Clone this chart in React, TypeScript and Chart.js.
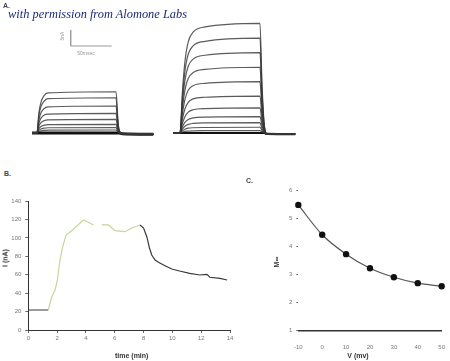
import React, { useEffect, useRef } from "react";
import { Chart, registerables } from "chart.js";

Chart.register(...registerables);

// ---------- Panel A: current traces (time in ms, current in nA) ----------
const A_LEFT_TIME = [39, 45, 47.5, 50, 53.5, 58.5, 141.5, 143.5, 145, 149, 187];
const A_LEFT_TRACES = [
  [0, 0, 8.6, 12.9, 15.5, 16.7, 17.2, 6.9, 1.7, -0.3, -0.5],
  [0, 0, 7.4, 11, 13.2, 14.3, 14.7, 5.9, 1.5, -0.3, -0.5],
  [0, 0, 5.6, 8.4, 10.1, 10.9, 11.25, 4.5, 1.1, -0.3, -0.5],
  [0, 0, 4.1, 6.2, 7.4, 7.9, 8.2, 3.3, 0.8, -0.3, -0.5],
  [0, 0, 2.9, 4.3, 5.1, 5.5, 5.7, 2.3, 0.6, -0.3, -0.5],
  [0, 0, 1.8, 2.7, 3.2, 3.5, 3.6, 1.4, 0.4, -0.3, -0.5],
  [0, 0, 1.1, 1.7, 2, 2.2, 2.25, 0.9, 0.2, -0.3, -0.5],
  [0, 0, 0.6, 0.9, 1.1, 1.2, 1.25, 0.5, 0.1, -0.3, -0.5],
  [0, 0, 0, 0, 0, 0, 0, 0, 0, -0.3, -0.5],
];
const A_RIGHT_TIME = [211, 219.5, 222.5, 225.5, 229.5, 235.5, 250, 317, 319.5, 322, 325.5, 360];
const A_RIGHT_TRACES = [
  [0, 0, 17.4, 29.7, 37.9, 42, 44.2, 45.7, 20.6, 4.6, -0.4, -0.5],
  [0, 0, 15, 25.7, 32.8, 36.3, 38.2, 39.5, 17.8, 4, -0.4, -0.5],
  [0, 0, 12.7, 21.8, 27.8, 30.8, 32.4, 33.5, 15.1, 3.4, -0.4, -0.5],
  [0, 0, 10.4, 17.8, 22.7, 25.2, 26.5, 27.4, 12.3, 2.7, -0.4, -0.5],
  [0, 0, 8.1, 13.9, 17.8, 19.7, 20.7, 21.4, 9.6, 2.1, -0.4, -0.5],
  [0, 0, 5.9, 10, 12.8, 14.2, 14.9, 15.4, 6.9, 1.5, -0.4, -0.5],
  [0, 0, 4, 6.8, 8.7, 9.7, 10.2, 10.5, 4.7, 1.1, -0.4, -0.5],
  [0, 0, 2.6, 4.4, 5.6, 6.3, 6.6, 6.8, 3.1, 0.7, -0.4, -0.5],
  [0, 0, 1.6, 2.8, 3.6, 4, 4.2, 4.3, 1.9, 0.4, -0.4, -0.5],
  [0, 0, 0.9, 1.6, 2, 2.2, 2.3, 2.4, 1.1, 0.2, -0.4, -0.5],
  [0, 0, 0.4, 0.7, 0.8, 0.9, 1, 1, 0.5, 0.1, -0.4, -0.5],
  [0, 0, 0, 0, 0, 0, 0, 0, 0, 0, -0.4, -0.5],
];
const SCALE_BAR_X = [86.2, 86.2, 136.2];
const SCALE_BAR_Y = [42.9, 36.25, 36.25];

// ---------- Panel B: current vs time ----------
const B_TIME = [0, 1.39, 1.63, 1.86, 2.02, 2.2, 2.39, 2.62, 3.13, 3.82, 4.17, 4.52, 4.8, 5.1, 5.56, 6.02, 6.72, 7.18, 7.76, 8.0, 8.23, 8.41, 8.57, 8.8, 9.03, 9.49, 9.96, 10.5, 11.2, 11.9, 12.4, 12.6, 13.3, 13.8];
const B_CURRENT = [21.7, 21.7, 36.1, 43.4, 54.3, 76, 90.4, 103, 109.3, 119.4, 117, 114, null, 114, 114, 107.8, 106.7, 110.7, 114, 110.7, 101, 89, 81.4, 76, 73.5, 69.8, 66.2, 64, 61.5, 59.7, 60.4, 57.2, 56.1, 54.3];
const B_GREEN_FROM = 1.39;
const B_GREEN_TO = 7.76;
const B_X_TICKS = [0, 2, 4, 6, 8, 10, 12, 14];
const B_Y_TICKS = [0, 20, 40, 60, 80, 100, 120, 140];

// ---------- Panel C: M vs voltage ----------
const C_VOLTAGE = [-10, 0, 10, 20, 30, 40, 50];
const C_M = [5.47, 4.41, 3.72, 3.22, 2.9, 2.69, 2.58];
const C_Y_TICKS = [1, 2, 3, 4, 5, 6];

const TICK_FONT = { family: "Liberation Sans", size: 6 };
const TICK_COLOR = "#777";
const DARK = "#3a3a3a";
const GREEN = "#c6d69c";
const TRACE = "rgba(55,55,55,0.82)";

const base = {
  responsive: false,
  animation: false as const,
  events: [] as any[],
  plugins: { legend: { display: false }, tooltip: { enabled: false } },
};

function useChart(ref: React.RefObject<HTMLCanvasElement>, make: () => any) {
  useEffect(() => {
    if (!ref.current) return;
    const chart = new Chart(ref.current, make());
    return () => chart.destroy();
  }, []);
}

function PanelA() {
  const ref = useRef<HTMLCanvasElement>(null);
  useChart(ref, () => {
    const datasets: any[] = [];
    A_LEFT_TRACES.forEach((tr, i) => {
      const isBase = i === A_LEFT_TRACES.length - 1;
      datasets.push({
        data: A_LEFT_TIME.map((t, j) => ({ x: t, y: tr[j] })),
        borderColor: isBase ? "#111" : TRACE,
        borderWidth: isBase ? 3 : 1.2,
        pointRadius: 0,
        cubicInterpolationMode: "monotone",
      });
    });
    A_RIGHT_TRACES.forEach((tr, i) => {
      const isBase = i === A_RIGHT_TRACES.length - 1;
      datasets.push({
        data: A_RIGHT_TIME.map((t, j) => ({ x: t, y: tr[j] })),
        borderColor: isBase ? "#111" : TRACE,
        borderWidth: isBase ? 2.2 : 1.2,
        pointRadius: 0,
        cubicInterpolationMode: "monotone",
      });
    });
    datasets.push({
      data: SCALE_BAR_X.map((t, j) => ({ x: t, y: SCALE_BAR_Y[j] })),
      borderColor: "#9a9a9a",
      borderWidth: 1,
      pointRadius: 0,
    });
    return {
      type: "line",
      data: { datasets },
      options: {
        ...base,
        layout: { padding: 0 },
        scales: {
          x: { type: "linear", display: false, min: 0, max: 365.85 },
          y: { type: "linear", display: false, min: -7.08, max: 55.42 },
        },
      },
    };
  });
  return (
    <canvas
      ref={ref}
      width={300}
      height={150}
      style={{ position: "absolute", left: 0, top: 0, width: 300, height: 150 }}
    />
  );
}

function PanelB() {
  const ref = useRef<HTMLCanvasElement>(null);
  useChart(ref, () => ({
    type: "line",
    data: {
      datasets: [
        {
          data: B_TIME.map((t, i) => ({ x: t, y: B_CURRENT[i] })),
          borderColor: DARK,
          borderWidth: 1.2,
          pointRadius: 0,
          spanGaps: false,
          segment: {
            borderColor: (ctx: any) =>
              ctx.p0.parsed.x >= B_GREEN_FROM && ctx.p1.parsed.x <= B_GREEN_TO ? GREEN : DARK,
          },
        },
      ],
    },
    options: {
      ...base,
      layout: { padding: { left: 0, right: 10, top: 21, bottom: 0 } },
      scales: {
        x: {
          type: "linear",
          min: 0,
          max: 14,
          afterFit: (s: any) => { s.height = 31; },
          afterBuildTicks: (s: any) => { s.ticks = B_X_TICKS.map((v) => ({ value: v })); },
          ticks: { font: TICK_FONT, color: TICK_COLOR, padding: 2, maxRotation: 0, autoSkip: false },
          grid: { drawOnChartArea: false, drawTicks: true, tickLength: 3, color: "#666" },
          border: { display: true, color: "#333", width: 1 },
        },
        y: {
          type: "linear",
          min: 0,
          max: 140,
          afterFit: (s: any) => { s.width = 28.3; },
          afterBuildTicks: (s: any) => { s.ticks = B_Y_TICKS.map((v) => ({ value: v })); },
          ticks: { font: TICK_FONT, color: TICK_COLOR, padding: 4, autoSkip: false },
          grid: { drawOnChartArea: false, drawTicks: true, tickLength: 3, color: "#666" },
          border: { display: true, color: "#333", width: 1 },
        },
      },
    },
  }));
  return (
    <canvas
      ref={ref}
      width={240}
      height={181}
      style={{ position: "absolute", left: 0, top: 180, width: 240, height: 181 }}
    />
  );
}

function PanelC() {
  const ref = useRef<HTMLCanvasElement>(null);
  useChart(ref, () => ({
    type: "line",
    data: {
      datasets: [
        {
          data: C_VOLTAGE.map((v, i) => ({ x: v, y: C_M[i] })),
          borderColor: "#555",
          borderWidth: 1.2,
          cubicInterpolationMode: "monotone",
          pointRadius: 3.2,
          pointBackgroundColor: "#111",
          pointBorderColor: "#111",
          pointBorderWidth: 0,
          clip: false,
        },
      ],
    },
    options: {
      ...base,
      layout: { padding: { left: 0, right: 3.3, top: 10, bottom: 0 } },
      scales: {
        x: {
          type: "linear",
          min: -10,
          max: 50,
          afterFit: (s: any) => { s.height = 30.3; },
          afterBuildTicks: (s: any) => { s.ticks = C_VOLTAGE.map((v) => ({ value: v })); },
          ticks: { font: TICK_FONT, color: TICK_COLOR, padding: 5, maxRotation: 0, autoSkip: false },
          grid: { display: false },
          border: { display: true, color: "#333", width: 1.5 },
        },
        y: {
          type: "linear",
          min: 1,
          max: 6,
          afterFit: (s: any) => { s.width = 58.3; },
          afterBuildTicks: (s: any) => { s.ticks = C_Y_TICKS.map((v) => ({ value: v })); },
          ticks: { font: TICK_FONT, color: TICK_COLOR, padding: 4, autoSkip: false },
          grid: { drawOnChartArea: false, drawTicks: true, tickLength: 2, color: "#666" },
          border: { display: false },
        },
      },
    },
  }));
  return (
    <canvas
      ref={ref}
      width={210}
      height={181}
      style={{ position: "absolute", left: 240, top: 180, width: 210, height: 181 }}
    />
  );
}

const label = (extra: React.CSSProperties): React.CSSProperties => ({
  position: "absolute",
  fontFamily: "Liberation Sans, Arial, sans-serif",
  whiteSpace: "nowrap",
  lineHeight: 1,
  ...extra,
});

const centered = (x: number, y: number, rotate: number, extra: React.CSSProperties) =>
  label({
    left: x,
    top: y,
    transform: `translate(-50%, -50%) rotate(${rotate}deg)`,
    ...extra,
  });

export default function App() {
  return (
    <div
      style={{
        position: "fixed",
        left: 0,
        top: 0,
        width: 450,
        height: 361,
        background: "#fff",
        overflow: "hidden",
      }}
    >
      <PanelA />
      <PanelB />
      <PanelC />
      <div style={label({ left: 3, top: 2, fontSize: 7, fontWeight: 700, color: "#444" })}>A.</div>
      <div
        style={label({
          left: 8,
          top: 8,
          fontFamily: "Liberation Serif, serif",
          fontStyle: "italic",
          fontSize: 12.4,
          color: "#1b2a78",
        })}
      >
        with permission from Alomone Labs
      </div>
      <div style={centered(62, 36, -90, { fontSize: 5, color: "#999" })}>5nA</div>
      <div style={centered(86, 53, 0, { fontSize: 5, color: "#999" })}>50msec</div>
      <div style={label({ left: 4, top: 170, fontSize: 7, fontWeight: 700, color: "#444" })}>B.</div>
      <div style={centered(5, 258, -90, { fontSize: 7, fontWeight: 700, color: "#333" })}>I (nA)</div>
      <div style={centered(131.7, 355, 0, { fontSize: 7, fontWeight: 700, color: "#333" })}>time (min)</div>
      <div style={label({ left: 246, top: 177, fontSize: 7, fontWeight: 700, color: "#444" })}>C.</div>
      <div style={centered(275.5, 262, -90, { fontSize: 7, fontWeight: 700, color: "#333" })}>M∞</div>
      <div style={centered(358, 355, 0, { fontSize: 7, fontWeight: 700, color: "#333" })}>V (mv)</div>
    </div>
  );
}
